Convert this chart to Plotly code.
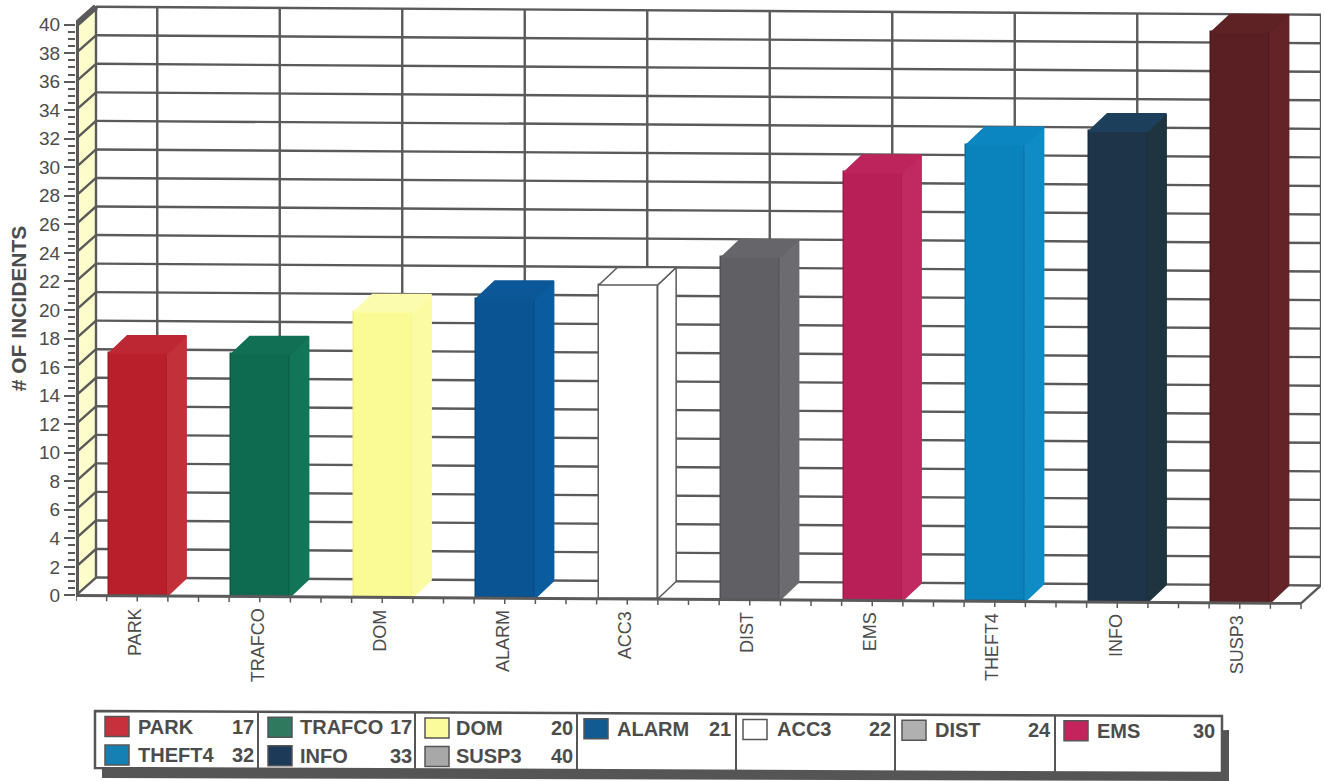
import plotly.graph_objects as go

categories = ["PARK", "TRAFCO", "DOM", "ALARM", "ACC3", "DIST", "EMS", "THEFT4", "INFO", "SUSP3"]
values = [17, 17, 20, 21, 22, 24, 30, 32, 33, 40]
front_colors = ["#b81f2b", "#0f6b4f", "#fbfb96", "#0a5493", "#ffffff", "#606064", "#b81f57", "#0a82bb", "#1e3448", "#5a1f22"]
side_colors = ["#c2303a", "#127558", "#fbfba4", "#0b5c9e", "#ffffff", "#6c6c70", "#c02a60", "#0f8cc6", "#20343f", "#642427"]
top_colors = ["#bd2633", "#116f53", "#fcfcae", "#0b5798", "#ffffff", "#66666a", "#bc245b", "#0c86c0", "#1c3f5c", "#5e2225"]
edge_colors = ["#9c1a24", "#0b5a42", "#f0f08c", "#084680", "#5a5a5a", "#505054", "#9c1a4a", "#086c9c", "#182c3e", "#4a191c"]
swatch_colors = ["#c8303c", "#2f7a5f", "#fbfb9c", "#125a92", "#ffffff", "#b0b0b0", "#c4245c", "#1480b4", "#1d3a58", "#a8a8a8"]
y_ticks = list(range(0, 41, 2))
minor_ticks = [t / 2 for t in range(0, 81)]

GRID = "#5a5a5a"
TEXT = "#4c4c4c"
FONT = "Liberation Sans, Arial, sans-serif"

W, H = 1325, 781
PX_L, PX_R, PX_T, PX_B = 76, 1321, 2, 615
PX_PER_X, PX_PER_Y = 122.5, 14.27
DX = 20 / PX_PER_X
DY = 18 / PX_PER_Y
BAR_DX = 18.5 / PX_PER_X
BAR_DY = 17.5 / PX_PER_Y
BAR_SHIFT = 1 / PX_PER_X
HALF = 0.24
X0, X1 = -0.5, 9.5
SKEW = 0.0558


def skew(x):
    return -SKEW * (x - X0)


def path(segments):
    return " ".join(
        "M " + " L ".join(f"{x:.4f},{y:.4f}" for x, y in seg) for seg in segments
    )


def line_shape(segments, width=2.4, color=GRID, layer="below"):
    return dict(type="path", xref="x", yref="y", path=path(segments), layer=layer,
                line=dict(color=color, width=width))


def px(x):
    return (x - PX_L) / (PX_R - PX_L)


def py(y):
    return (PX_B - y) / (PX_B - PX_T)


shapes = []
bx0, bx1 = X0 + DX, X1 + DX
shapes.append(dict(type="path", xref="x", yref="y", layer="below", fillcolor="#fdfdcc",
                   line=dict(width=0),
                   path=path([[(X0, 0), (X0, 40), (bx0, 40 + DY), (bx0, DY)]]) + " Z"))
shapes.append(line_shape([[(bx0, t + DY + skew(bx0)), (bx1, t + DY + skew(bx1))] for t in y_ticks]))
shapes.append(line_shape([[(X0, t), (bx0, t + DY + skew(bx0))] for t in y_ticks]))
back_x = [bx0] + [i + DX for i in range(len(categories))] + [bx1]
shapes.append(line_shape([[(x, DY + skew(x)), (x, 40 + DY + skew(x))] for x in back_x]))
shapes.append(line_shape([[(X1, skew(X1)), (bx1, DY + skew(bx1))]]))
# thick axis frame
shapes.append(line_shape([[(X0, 0), (X0, 40), (bx0, 40 + DY + skew(bx0))]], width=6, layer="above"))
shapes.append(line_shape([[(X0, skew(X0)), (X1, skew(X1))]], width=3, layer="above"))
tick_x = [X0 + 0.25 * k for k in range(41)]
shapes.append(line_shape([[(x, skew(x)), (x, skew(x) - 0.4)] for x in tick_x], width=1.5, layer="above"))

fig = go.Figure()
bar_x = [i + BAR_SHIFT for i in range(len(categories))]
fig.add_trace(go.Bar(
    x=bar_x, y=values, width=2 * HALF,
    base=[skew(i) for i in range(len(categories))],
    marker=dict(color=front_colors, line=dict(color=edge_colors, width=1.5)),
    hoverinfo="skip", showlegend=False))

for i, (v, sc, tc) in enumerate(zip(values, side_colors, top_colors)):
    base = skew(i)
    top = base + v
    r = bar_x[i] + HALF
    l = bar_x[i] - HALF
    edge = edge_colors[i] if front_colors[i] == "#ffffff" else sc
    fig.add_trace(go.Scatter(
        x=[r, r + BAR_DX, r + BAR_DX, r, r], y=[base, base + BAR_DY, top + BAR_DY, top, base],
        mode="lines", fill="toself", fillcolor=sc, line=dict(color=edge, width=1.5),
        hoverinfo="skip", showlegend=False))
    edge = edge_colors[i] if front_colors[i] == "#ffffff" else tc
    fig.add_trace(go.Scatter(
        x=[l, r, r + BAR_DX, l + BAR_DX, l], y=[top, top, top + BAR_DY, top + BAR_DY, top],
        mode="lines", fill="toself", fillcolor=tc, line=dict(color=edge, width=1.5),
        hoverinfo="skip", showlegend=False))

annotations = []
for i, c in enumerate(categories):
    annotations.append(dict(x=i, y=skew(i), xref="x", yref="y", text=c, showarrow=False,
                            textangle=-90, yanchor="top", xanchor="center", xshift=-2, yshift=-10,
                            font=dict(family=FONT, size=18, color=TEXT)))

# legend panel, drawn in page pixels converted to paper fractions
LEG_TILT = 0.0045
col_edges = [95, 258, 415, 577, 736, 895, 1055, 1222]
swatch_left = [105, 268, 425, 584, 743, 902, 1064]
text_left = [136, 298, 454, 615, 775, 933, 1095]
value_right = [256, 414, 575, 733, 893, 1053, 1217]
row_mid = [726.5, 755]
top_y, bot_y = 711, 768


def tilt(x):
    return LEG_TILT * (x - 95)


def poly(points):
    s = "M " + " L ".join(f"{px(x):.5f},{py(y):.5f}" for x, y in points) + " Z"
    return s


shapes.append(dict(type="path", xref="paper", yref="paper", layer="above", fillcolor="#555555",
                   line=dict(width=0),
                   path=poly([(102, 760), (1229, 730), (1229, 781), (102, 778)])))
shapes.append(dict(type="path", xref="paper", yref="paper", layer="above", fillcolor="#ffffff",
                   line=dict(color="#555555", width=2.5),
                   path=poly([(95, top_y), (1222, top_y + tilt(1222)), (1222, bot_y + tilt(1222)), (95, bot_y)])))
for e in col_edges[1:-1]:
    shapes.append(dict(type="path", xref="paper", yref="paper", layer="above",
                       line=dict(color="#555555", width=2),
                       path=f"M {px(e):.5f},{py(top_y + tilt(e)):.5f} L {px(e):.5f},{py(bot_y + tilt(e)):.5f}"))

for i, c in enumerate(categories):
    row, col = (0, i) if i < 7 else (1, i - 7)
    ym = row_mid[row] + tilt(swatch_left[col])
    sx = swatch_left[col]
    shapes.append(dict(type="rect", xref="paper", yref="paper", layer="above",
                       x0=px(sx), x1=px(sx + 24), y0=py(ym + 10), y1=py(ym - 10),
                       fillcolor=swatch_colors[i], line=dict(color="#555555", width=1.5)))
    annotations.append(dict(x=px(text_left[col]), y=py(ym), xref="paper", yref="paper", text=f"<b>{c}</b>",
                            showarrow=False, xanchor="left", yanchor="middle",
                            font=dict(family=FONT, size=20, color=TEXT)))
    annotations.append(dict(x=px(value_right[col]), y=py(ym), xref="paper", yref="paper", text=f"<b>{values[i]}</b>",
                            showarrow=False, xanchor="right", yanchor="middle",
                            font=dict(family=FONT, size=20, color=TEXT)))

y_top = (595.4 - PX_T) / PX_PER_Y
y_bot = (595.4 - PX_B) / PX_PER_Y
fig.update_layout(
    width=W, height=H, autosize=False, paper_bgcolor="white", plot_bgcolor="white",
    margin=dict(l=PX_L, r=W - PX_R, t=PX_T, b=H - PX_B, pad=0),
    bargap=0, showlegend=False, shapes=shapes, annotations=annotations,
    xaxis=dict(range=[X0, bx1], showgrid=False, zeroline=False, showline=False,
               showticklabels=False, ticks="", automargin=False),
    yaxis=dict(range=[y_bot, y_top], tickmode="array", tickvals=y_ticks, ticktext=[str(t) for t in y_ticks],
               showgrid=False, zeroline=False, showline=False, automargin=False,
               ticks="outside", ticklen=11, tickwidth=2, tickcolor=GRID,
               minor=dict(tickmode="array", tickvals=minor_ticks, ticks="outside", ticklen=7, tickwidth=1.5, tickcolor=GRID),
               tickfont=dict(family=FONT, size=19, color=TEXT),
               title=dict(text="<b># OF INCIDENTS</b>", standoff=6, font=dict(family=FONT, size=21, color=TEXT))),
)
fig.write_html("out.html", config=dict(displayModeBar=False),
               post_script="document.body.style.margin='0';")
